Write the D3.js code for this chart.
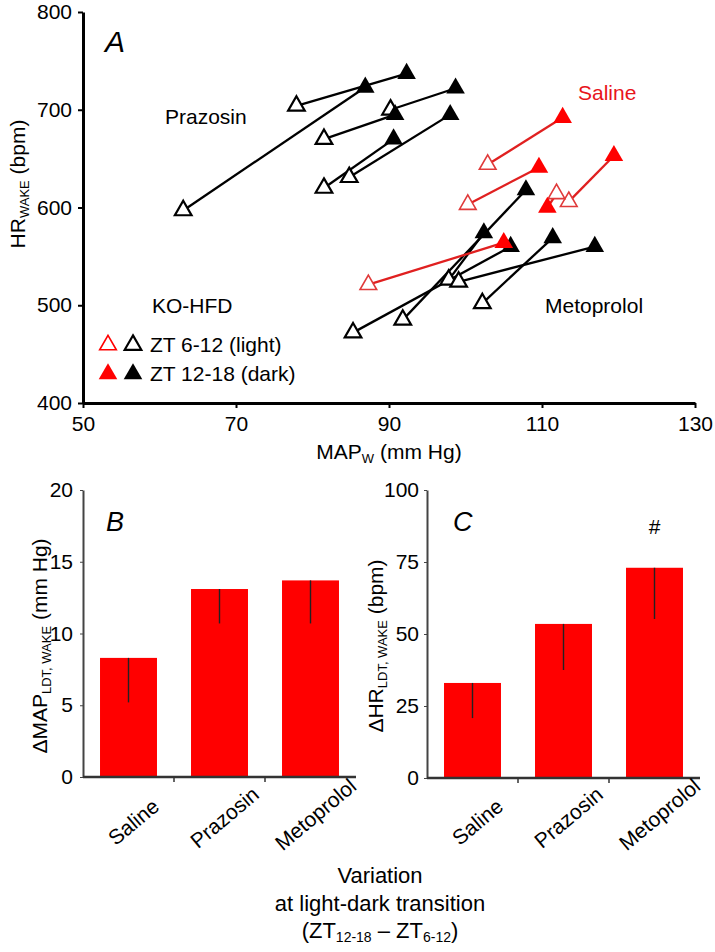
<!DOCTYPE html>
<html>
<head>
<meta charset="utf-8">
<script src="https://cdn.jsdelivr.net/npm/d3@7"></script>
<style>
    body { margin: 0; background: #fff; }
    svg { font-family: Arial, "Liberation Sans", sans-serif; }
</style>
</head>
<body>
<svg id="chart" width="715" height="952"></svg>
<script>
// ---------------------- DATA ----------------------

// Panel A: [MAP (mm Hg), HR (bpm)] at ZT 6-12 (light) and ZT 12-18 (dark)
const salinePairs = [
    {light: [102.9, 644], dark: [112.7, 692]},
    {light: [100.3, 603], dark: [109.6, 641]},
    {light: [113.5, 606], dark: [119.4, 653]},
    {light: [111.9, 614], dark: [110.7, 600]},
    {light: [87.3, 521], dark: [105.0, 564]}
];
const prazosinPairs = [
    {light: [63.1, 597], dark: [86.9, 723]},
    {light: [77.9, 704], dark: [92.3, 737]},
    {light: [81.5, 670], dark: [90.8, 695]},
    {light: [90.2, 700], dark: [98.7, 722]},
    {light: [81.5, 620], dark: [90.6, 670]},
    {light: [84.8, 631], dark: [98.0, 695]}
];
const metoprololPairs = [
    {light: [91.8, 485], dark: [107.9, 618]},
    {light: [102.2, 502], dark: [111.4, 569]},
    {light: [85.3, 472], dark: [105.9, 560]},
    {light: [97.8, 526], dark: [102.4, 574]},
    {light: [99.1, 524], dark: [116.9, 560]}
];
const mapTicks = [50, 70, 90, 110, 130];
const hrTicks = [400, 500, 600, 700, 800];

// Panels B and C
const treatments = ["Saline", "Prazosin", "Metoprolol"];
const deltaMAP = [8.3, 13.1, 13.7];
const deltaMAPErr = [3.1, 2.4, 3.0];
const deltaHR = [33, 53.5, 73];
const deltaHRErr = [12.2, 16, 17.8];
const deltaMAPTicks = [0, 5, 10, 15, 20];
const deltaHRTicks = [0, 25, 50, 75, 100];

const RED = "#ff0000";
const svg = d3.select("#chart");

// ---------------------- PANEL A ----------------------
function drawScatter() {
    const x = d3.scaleLinear().domain([50, 130]).range([83, 695]);
    const y = d3.scaleLinear().domain([400, 800]).range([403, 12]);
    const g = svg.append("g");

    const groups = [
        {pairs: prazosinPairs, color: "#000", openColor: "#000", openWidth: 2.2},
        {pairs: metoprololPairs, color: "#000", openColor: "#000", openWidth: 2.2},
        {pairs: salinePairs, color: "#e02020", openColor: "#e03a3a", openWidth: 1.6}
    ];

    const tri = d3.symbol().type(d3.symbolTriangle);

    // connecting lines first
    groups.forEach(grp => {
        g.selectAll(null).data(grp.pairs).enter().append("line")
            .attr("x1", d => x(d.light[0])).attr("y1", d => y(d.light[1]))
            .attr("x2", d => x(d.dark[0])).attr("y2", d => y(d.dark[1]))
            .attr("stroke", grp.color).attr("stroke-width", 2.3);
    });
    // open (light) triangles
    groups.forEach(grp => {
        g.selectAll(null).data(grp.pairs).enter().append("path")
            .attr("d", tri.size(120)())
            .attr("transform", d => `translate(${x(d.light[0])},${y(d.light[1])})`)
            .attr("fill", "#fff").attr("stroke", grp.openColor).attr("stroke-width", grp.openWidth);
    });
    // filled (dark) triangles
    groups.forEach(grp => {
        g.selectAll(null).data(grp.pairs).enter().append("path")
            .attr("d", tri.size(150)())
            .attr("transform", d => `translate(${x(d.dark[0])},${y(d.dark[1])})`)
            .attr("fill", grp.color === "#000" ? "#000" : RED);
    });

    // axes
    const yAxis = g.append("g").attr("transform", "translate(83,0)")
        .call(d3.axisLeft(y).tickValues(hrTicks).tickSize(5).tickSizeOuter(0).tickPadding(6));
    const xAxis = g.append("g").attr("transform", "translate(0,403)")
        .call(d3.axisBottom(x).tickValues(mapTicks).tickSize(5).tickSizeOuter(0).tickPadding(8));
    [yAxis, xAxis].forEach(a => {
        a.select(".domain").attr("stroke", "#000").attr("stroke-width", 3);
        a.selectAll(".tick line").attr("stroke", "#000").attr("stroke-width", 2);
        a.selectAll("text").attr("font-size", 21).attr("fill", "#000")
            .attr("font-family", "Arial, 'Liberation Sans', sans-serif");
    });

    // axis titles
    const yl = g.append("text").attr("transform", "translate(25,184) rotate(-90)")
        .attr("text-anchor", "middle").attr("font-size", 21);
    yl.append("tspan").text("HR");
    yl.append("tspan").attr("font-size", 13).attr("dy", 4).text("WAKE");
    yl.append("tspan").attr("dy", -4).text(" (bpm)");

    const xl = g.append("text").attr("x", 389).attr("y", 459)
        .attr("text-anchor", "middle").attr("font-size", 21);
    xl.append("tspan").text("MAP");
    xl.append("tspan").attr("font-size", 13).attr("dy", 4).text("W");
    xl.append("tspan").attr("dy", -4).text(" (mm Hg)");

    // annotations
    g.append("text").attr("x", 105).attr("y", 52).attr("font-size", 30)
        .attr("font-style", "italic").text("A");
    g.append("text").attr("x", 165).attr("y", 124).attr("font-size", 21).text("Prazosin");
    g.append("text").attr("x", 578).attr("y", 100).attr("font-size", 21).attr("fill", "#e8141b").text("Saline");
    g.append("text").attr("x", 545).attr("y", 313).attr("font-size", 21).text("Metoprolol");
    g.append("text").attr("x", 152).attr("y", 313).attr("font-size", 21).text("KO-HFD");

    // legend
    const legendRows = [
        {label: "ZT 6-12 (light)", open: true, cy: 345, base: 352},
        {label: "ZT 12-18 (dark)", open: false, cy: 374, base: 381}
    ];
    legendRows.forEach(r => {
        [{cx: 108, c: RED}, {cx: 133, c: "#000"}].forEach(m => {
            const p = g.append("path").attr("d", tri.size(r.open ? 120 : 150)())
                .attr("transform", `translate(${m.cx},${r.cy})`);
            if (r.open) p.attr("fill", "#fff").attr("stroke", m.c).attr("stroke-width", m.c === RED ? 1.6 : 2.2);
            else p.attr("fill", m.c);
        });
        g.append("text").attr("x", 150).attr("y", r.base).attr("font-size", 21).text(r.label);
    });
}

// ---------------------- PANELS B, C ----------------------
function drawBars(opts) {
    const {x0, x1, values, errors, ticks, yMax, yZero, yTop, letter, letterX, labelX, labelParts, tickPad} = opts;
    const g = svg.append("g");
    const x = d3.scaleBand().domain(treatments).range([x0, x1]).paddingInner(0.374).paddingOuter(0.187);
    const y = d3.scaleLinear().domain([0, yMax]).range([yZero, yTop]);

    g.selectAll("rect").data(values).enter().append("rect")
        .attr("x", (d, i) => x(treatments[i]))
        .attr("y", d => y(d))
        .attr("width", x.bandwidth())
        .attr("height", d => y(0) - y(d))
        .attr("fill", RED);

    // error bars (downward only)
    g.selectAll(".err").data(values).enter().append("line")
        .attr("x1", (d, i) => x(treatments[i]) + x.bandwidth() / 2)
        .attr("x2", (d, i) => x(treatments[i]) + x.bandwidth() / 2)
        .attr("y1", d => y(d))
        .attr("y2", (d, i) => y(d - errors[i]))
        .attr("stroke", "#222").attr("stroke-width", 1.4);

    const yAxis = g.append("g").attr("transform", `translate(${x0},0)`)
        .call(d3.axisLeft(y).tickValues(ticks).tickSize(3).tickSizeOuter(0).tickPadding(tickPad));
    yAxis.select(".domain").attr("stroke", "#444").attr("stroke-width", 2);
    yAxis.selectAll(".tick line").attr("stroke", "#444");
    yAxis.selectAll("text").attr("font-size", 21).attr("fill", "#000")
        .attr("font-family", "Arial, 'Liberation Sans', sans-serif");

    // category axis with ticks at band boundaries
    g.append("line").attr("x1", x0).attr("x2", x1).attr("y1", yZero).attr("y2", yZero)
        .attr("stroke", "#333").attr("stroke-width", 2.5);
    g.selectAll(".ctick").data(treatments.slice(1)).enter().append("line")
        .attr("x1", d => x(d) - x.step() * x.paddingInner() / 2)
        .attr("x2", d => x(d) - x.step() * x.paddingInner() / 2)
        .attr("y1", yZero).attr("y2", yZero + 5)
        .attr("stroke", "#333").attr("stroke-width", 1.5);

    g.selectAll(".cat").data(treatments).enter().append("text")
        .attr("font-size", 21).attr("text-anchor", "middle")
        .text(d => d)
        .each(function (d) {
            const w = this.getComputedTextLength();
            const cx = x(d) + x.bandwidth() / 2 + 5;
            const cy = 833 - 0.19 * w;
            d3.select(this).attr("transform", `translate(${cx},${cy}) rotate(-40)`).attr("dy", "0.35em");
        });

    g.append("text").attr("x", letterX).attr("y", 531).attr("font-size", 27)
        .attr("font-style", "italic").text(letter);

    const yl = g.append("text").attr("transform", `translate(${labelX},646) rotate(-90)`)
        .attr("text-anchor", "middle").attr("font-size", 21);
    yl.append("tspan").text(labelParts[0]);
    yl.append("tspan").attr("font-size", 13).attr("dy", 4).text("LDT, WAKE");
    yl.append("tspan").attr("dy", -4).text(labelParts[1]);

    return {x, y, g};
}

drawScatter();

drawBars({
    x0: 83, x1: 356, values: deltaMAP, errors: deltaMAPErr, ticks: deltaMAPTicks,
    yMax: 20, yZero: 777, yTop: 490, letter: "B", letterX: 106, labelX: 47,
    labelParts: ["\u0394MAP", " (mm Hg)"], tickPad: 7
});

const panelC = drawBars({
    x0: 427, x1: 700, values: deltaHR, errors: deltaHRErr, ticks: deltaHRTicks,
    yMax: 100, yZero: 778, yTop: 490, letter: "C", letterX: 453, labelX: 383,
    labelParts: ["\u0394HR", " (bpm)"], tickPad: 5
});

// significance mark above Metoprolol
panelC.g.append("text")
    .attr("x", panelC.x("Metoprolol") + panelC.x.bandwidth() / 2)
    .attr("y", 534).attr("text-anchor", "middle").attr("font-size", 21).text("#");

// ---------------------- FOOTER ----------------------
const foot = svg.append("g").attr("font-size", 22).attr("text-anchor", "middle");
foot.append("text").attr("x", 380).attr("y", 883).text("Variation");
foot.append("text").attr("x", 380).attr("y", 911).text("at light-dark transition");
const f3 = foot.append("text").attr("x", 380).attr("y", 938);
f3.append("tspan").text("(ZT");
f3.append("tspan").attr("font-size", 14).attr("dy", 4).text("12-18");
f3.append("tspan").attr("dy", -4).text(" \u2013 ZT");
f3.append("tspan").attr("font-size", 14).attr("dy", 4).text("6-12");
f3.append("tspan").attr("dy", -4).text(")");
</script>
</body>
</html>
